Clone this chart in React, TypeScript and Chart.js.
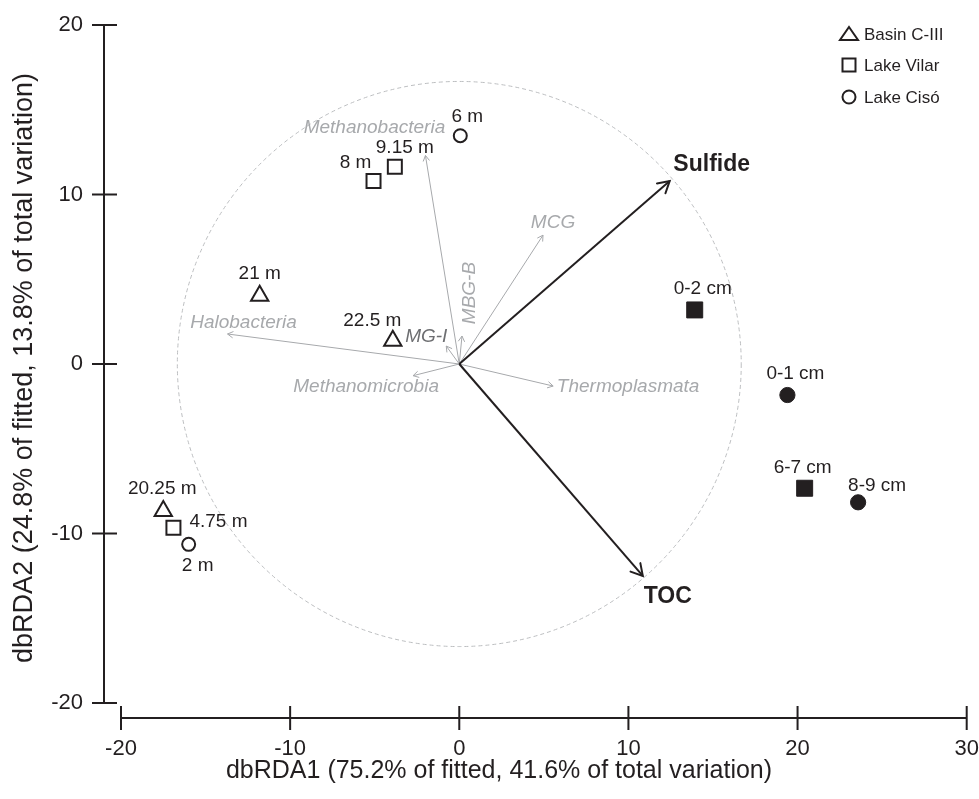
import React, { useEffect, useRef } from 'react';
import { Chart, registerables } from 'chart.js';

Chart.register(...registerables);

// ---------- data ----------
const xTicks = [-20, -10, 0, 10, 20, 30];
const yTicks = [-20, -10, 0, 10, 20];

const basinLabels = ['21 m', '22.5 m', '20.25 m'];
const basinX = [-11.8, -3.93, -17.5];
const basinY = [4.03, 1.37, -8.67];

const vilarWaterLabels = ['8 m', '9.15 m', '4.75 m'];
const vilarWaterX = [-5.07, -3.81, -16.9];
const vilarWaterY = [10.8, 11.64, -9.66];

const vilarSedLabels = ['0-2 cm', '6-7 cm'];
const vilarSedX = [13.92, 20.42];
const vilarSedY = [3.19, -7.33];

const cisoWaterLabels = ['6 m', '2 m'];
const cisoWaterX = [0.06, -16.0];
const cisoWaterY = [13.47, -10.64];

const cisoSedLabels = ['0-1 cm', '8-9 cm'];
const cisoSedX = [19.4, 23.58];
const cisoSedY = [-1.83, -8.16];

const envNames = ['Sulfide', 'TOC'];
const envX = [12.44, 10.85];
const envY = [10.8, -12.5];

const taxaNames = ['Methanobacteria', 'MCG', 'MBG-B', 'MG-I', 'Halobacteria', 'Methanomicrobia', 'Thermoplasmata'];
const taxaX = [-2.0, 4.95, 0.16, -0.77, -13.7, -2.73, 5.55];
const taxaY = [12.3, 7.6, 1.65, 1.06, 1.77, -0.69, -1.3];

const circleRadius = 16.67;
const legendNames = ['Basin C-III', 'Lake Vilar', 'Lake Cisó'];

const xTitle = 'dbRDA1 (75.2% of fitted, 41.6% of total variation)';
const yTitle = 'dbRDA2 (24.8% of fitted, 13.8% of total variation)';

// ---------- label placement (px offsets, styling) ----------
const basinLabelOffsets = [[0, -21.5], [-20.5, -20], [-1, -22]];
const vilarWaterLabelOffsets = [[-18, -18], [10, -19], [45, -6]];
const vilarSedLabelOffsets = [[8, -21], [-2, -20]];
const cisoWaterLabelOffsets = [[7, -19], [9, 21]];
const cisoSedLabelOffsets = [[8, -21], [19, -17]];
const envLabelOffsets = [[42, -16], [25, 21]];
const taxaLabelOffsets = [[-51, -28], [10, -12], [8, -43], [-20, -9], [16, -11], [-47, 11], [75, 1]];
const taxaLabelRotate = [0, 0, -90, 0, 0, 0, 0];

const FONT = '"Liberation Sans", Arial, Helvetica, sans-serif';
const BLACK = '#231f20';
const GRAY = '#a7a9ac';
const MGI_GRAY = '#6d6e71';
const CIRCLE_GRAY = '#bcbec0';

const pts = (xs: number[], ys: number[]) => xs.map((v, i) => ({ x: v, y: ys[i] }));

function drawHead(ctx: CanvasRenderingContext2D, x0: number, y0: number, x1: number, y1: number, len: number) {
  const a = Math.atan2(y1 - y0, x1 - x0);
  const sp = Math.PI / 6;
  ctx.beginPath();
  ctx.moveTo(x1 - len * Math.cos(a - sp), y1 - len * Math.sin(a - sp));
  ctx.lineTo(x1, y1);
  ctx.lineTo(x1 - len * Math.cos(a + sp), y1 - len * Math.sin(a + sp));
  ctx.stroke();
}

const overlayPlugin = {
  id: 'overlay',
  beforeDatasetsDraw(chart: any) {
    const { ctx, scales } = chart;
    const x = scales.x, y = scales.y;
    const cx = x.getPixelForValue(0), cy = y.getPixelForValue(0);
    const rx = x.getPixelForValue(circleRadius) - cx;
    const ry = cy - y.getPixelForValue(circleRadius);
    ctx.save();
    ctx.strokeStyle = CIRCLE_GRAY;
    ctx.lineWidth = 1;
    ctx.setLineDash([4, 3]);
    ctx.beginPath();
    ctx.ellipse(cx, cy, rx, ry, 0, 0, Math.PI * 2);
    ctx.stroke();
    ctx.restore();
  },
  afterDatasetsDraw(chart: any) {
    const { ctx, scales } = chart;
    const x = scales.x, y = scales.y;
    const ox = x.getPixelForValue(0), oy = y.getPixelForValue(0);
    ctx.save();
    ctx.lineCap = 'round';
    ctx.lineJoin = 'miter';
    ctx.strokeStyle = GRAY;
    ctx.lineWidth = 1;
    taxaNames.forEach((_, i) => {
      drawHead(ctx, ox, oy, x.getPixelForValue(taxaX[i]), y.getPixelForValue(taxaY[i]), 6);
    });
    ctx.strokeStyle = BLACK;
    ctx.lineWidth = 2;
    envNames.forEach((_, i) => {
      drawHead(ctx, ox, oy, x.getPixelForValue(envX[i]), y.getPixelForValue(envY[i]), 13);
    });

    ctx.textAlign = 'center';
    ctx.textBaseline = 'middle';
    ctx.font = `italic 19px ${FONT}`;
    taxaNames.forEach((name, i) => {
      const px = x.getPixelForValue(taxaX[i]) + taxaLabelOffsets[i][0];
      const py = y.getPixelForValue(taxaY[i]) + taxaLabelOffsets[i][1];
      ctx.fillStyle = name === 'MG-I' ? MGI_GRAY : GRAY;
      ctx.save();
      ctx.translate(px, py);
      ctx.rotate((taxaLabelRotate[i] * Math.PI) / 180);
      ctx.fillText(name, 0, 0);
      ctx.restore();
    });
    ctx.font = `bold 23px ${FONT}`;
    ctx.fillStyle = BLACK;
    envNames.forEach((name, i) => {
      ctx.fillText(name, x.getPixelForValue(envX[i]) + envLabelOffsets[i][0], y.getPixelForValue(envY[i]) + envLabelOffsets[i][1]);
    });
    ctx.font = `19px ${FONT}`;
    const groups: [string[], number[], number[], number[][]][] = [
      [basinLabels, basinX, basinY, basinLabelOffsets],
      [vilarWaterLabels, vilarWaterX, vilarWaterY, vilarWaterLabelOffsets],
      [vilarSedLabels, vilarSedX, vilarSedY, vilarSedLabelOffsets],
      [cisoWaterLabels, cisoWaterX, cisoWaterY, cisoWaterLabelOffsets],
      [cisoSedLabels, cisoSedX, cisoSedY, cisoSedLabelOffsets],
    ];
    groups.forEach(([labels, xs, ys, offs]) => {
      labels.forEach((lab, i) => {
        ctx.fillText(lab, x.getPixelForValue(xs[i]) + offs[i][0], y.getPixelForValue(ys[i]) + offs[i][1]);
      });
    });
    ctx.restore();
  },
  afterDraw(chart: any) {
    const { ctx, scales, chartArea } = chart;
    const x = scales.x, y = scales.y;
    ctx.save();
    ctx.strokeStyle = BLACK;
    ctx.lineWidth = 2;
    ctx.lineCap = 'butt';
    const ax = chartArea.left - 17;
    ctx.beginPath();
    ctx.moveTo(ax, y.getPixelForValue(yTicks[yTicks.length - 1]));
    ctx.lineTo(ax, y.getPixelForValue(yTicks[0]));
    yTicks.forEach((v) => {
      const py = y.getPixelForValue(v);
      ctx.moveTo(ax - 12, py);
      ctx.lineTo(ax + 13, py);
    });
    ctx.stroke();
    const ay = chartArea.bottom + 15;
    ctx.beginPath();
    ctx.moveTo(x.getPixelForValue(xTicks[0]), ay);
    ctx.lineTo(x.getPixelForValue(xTicks[xTicks.length - 1]), ay);
    xTicks.forEach((v) => {
      const px = x.getPixelForValue(v);
      ctx.moveTo(px, ay - 12);
      ctx.lineTo(px, ay + 12);
    });
    ctx.stroke();

    ctx.fillStyle = BLACK;
    ctx.textAlign = 'center';
    ctx.textBaseline = 'middle';
    ctx.font = `25px ${FONT}`;
    ctx.fillText(xTitle, 499, 771);
    ctx.save();
    ctx.font = `27px ${FONT}`;
    ctx.translate(25, 368);
    ctx.rotate(-Math.PI / 2);
    ctx.fillText(yTitle, 0, 0);
    ctx.restore();

    const lx = chart.width - 130;
    const rows = [34, 65, 97];
    ctx.lineWidth = 2;
    ctx.strokeStyle = BLACK;
    ctx.beginPath();
    ctx.moveTo(lx, rows[0] - 7);
    ctx.lineTo(lx + 9, rows[0] + 6);
    ctx.lineTo(lx - 9, rows[0] + 6);
    ctx.closePath();
    ctx.stroke();
    ctx.strokeRect(lx - 6.5, rows[1] - 6.5, 13, 13);
    ctx.beginPath();
    ctx.arc(lx, rows[2], 6.5, 0, Math.PI * 2);
    ctx.stroke();
    ctx.font = `17px ${FONT}`;
    ctx.textAlign = 'left';
    legendNames.forEach((n, i) => ctx.fillText(n, lx + 15, rows[i] + 1));
    ctx.restore();
  },
};

export default function App() {
  const ref = useRef<HTMLCanvasElement | null>(null);
  useEffect(() => {
    if (!ref.current) return;
    const openStyle = { borderColor: BLACK, backgroundColor: 'rgba(0,0,0,0)', borderWidth: 2, showLine: false };
    const filledStyle = { borderColor: BLACK, backgroundColor: BLACK, borderWidth: 1, showLine: false };
    const datasets: any[] = [
      { label: legendNames[0], data: pts(basinX, basinY), pointStyle: 'triangle', pointRadius: 10, ...openStyle },
      { label: legendNames[1], data: pts(vilarWaterX, vilarWaterY), pointStyle: 'rect', pointRadius: 9.9, ...openStyle },
      { label: legendNames[1] + ' sediment', data: pts(vilarSedX, vilarSedY), pointStyle: 'rect', pointRadius: 11.3, ...filledStyle },
      { label: legendNames[2], data: pts(cisoWaterX, cisoWaterY), pointStyle: 'circle', pointRadius: 6.5, ...openStyle },
      { label: legendNames[2] + ' sediment', data: pts(cisoSedX, cisoSedY), pointStyle: 'circle', pointRadius: 7.6, ...filledStyle },
      ...envNames.map((n, i) => ({
        label: n, data: [{ x: 0, y: 0 }, { x: envX[i], y: envY[i] }], showLine: true,
        borderColor: BLACK, borderWidth: 2, pointRadius: 0, fill: false,
      })),
      ...taxaNames.map((n, i) => ({
        label: n, data: [{ x: 0, y: 0 }, { x: taxaX[i], y: taxaY[i] }], showLine: true,
        borderColor: GRAY, borderWidth: 1, pointRadius: 0, fill: false,
      })),
    ];
    const tickFont = { family: FONT, size: 22 };
    const chart = new Chart(ref.current, {
      type: 'scatter',
      data: { datasets },
      plugins: [overlayPlugin],
      options: {
        animation: false,
        responsive: false,
        devicePixelRatio: 1,
        events: [],
        layout: { padding: { left: 0, right: 11, top: 25, bottom: 0 } },
        plugins: { legend: { display: false }, tooltip: { enabled: false }, title: { display: false } },
        scales: {
          x: {
            type: 'linear', min: xTicks[0], max: xTicks[xTicks.length - 1], position: 'bottom',
            grid: { display: false, drawTicks: false }, border: { display: false },
            ticks: { font: tickFont, color: BLACK, padding: 33, maxRotation: 0, autoSkip: false },
            afterBuildTicks: (s: any) => { s.ticks = xTicks.map((v) => ({ value: v })); },
            afterFit: (s: any) => { s.height = 96; s.paddingLeft = 0; s.paddingRight = 0; },
          },
          y: {
            type: 'linear', min: yTicks[0], max: yTicks[yTicks.length - 1], position: 'left',
            grid: { display: false, drawTicks: false }, border: { display: false },
            ticks: { font: tickFont, color: BLACK, padding: 38, autoSkip: false },
            afterBuildTicks: (s: any) => { s.ticks = yTicks.map((v) => ({ value: v })); },
            afterFit: (s: any) => { s.width = 121; s.paddingTop = 0; s.paddingBottom = 0; },
          },
        },
      } as any,
    });
    return () => chart.destroy();
  }, []);
  return (
    <div style={{ position: 'absolute', left: 0, top: 0, width: 979, height: 799, background: '#fff' }}>
      <canvas ref={ref} width={979} height={799} style={{ display: 'block', width: 979, height: 799 }} />
    </div>
  );
}
